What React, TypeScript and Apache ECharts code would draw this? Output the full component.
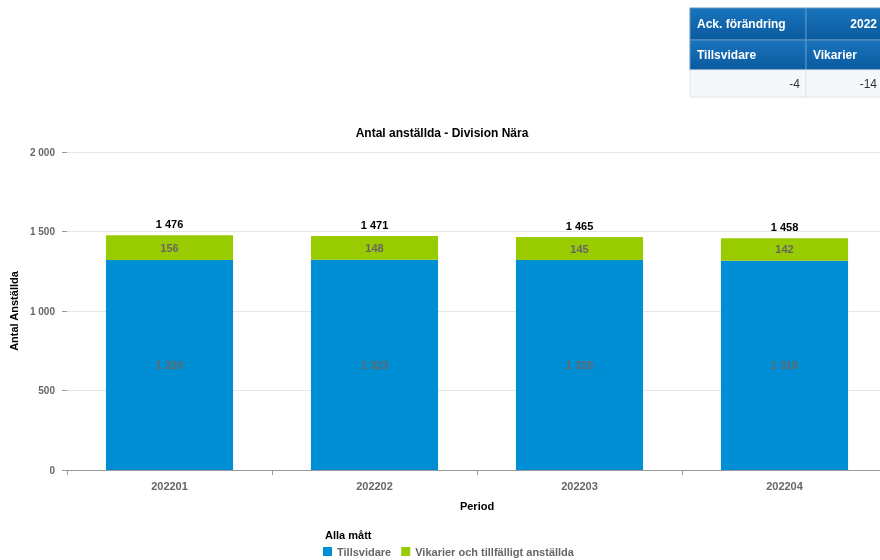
import React, { useEffect, useRef } from "react";
import * as echarts from "echarts";

const categories = ["202201", "202202", "202203", "202204"];
const tillsvidare = [1320, 1323, 1320, 1316];
const vikarier = [156, 148, 145, 142];
const totals = [1476, 1471, 1465, 1458];
const yTicks = [0, 500, 1000, 1500, 2000];
const tableHeader = ["Ack. förändring", "2022"];
const tableSub = ["Tillsvidare", "Vikarier"];
const tableValues = ["-4", "-14"];

const fmt = (v: number) => String(v).replace(/\B(?=(\d{3})+(?!\d))/g, " ");
const FONT = "Liberation Sans, Arial, sans-serif";

export default function App() {
  const ref = useRef<HTMLDivElement>(null);
  useEffect(() => {
    if (!ref.current) return;
    const chart = echarts.init(ref.current, undefined, { renderer: "svg" });
    const headGrad = new echarts.graphic.LinearGradient(0, 0, 0, 1, [
      { offset: 0, color: "#1a74bd" },
      { offset: 1, color: "#0a5a9e" },
    ]);
    const headGrad2 = new echarts.graphic.LinearGradient(0, 0, 0, 1, [
      { offset: 0, color: "#1a74bd" },
      { offset: 1, color: "#0a5a9e" },
    ]);
    chart.setOption({
      animation: false,
      textStyle: { fontFamily: FONT },
      title: [
        {
          text: "Antal anställda - Division Nära",
          left: 437,
          top: 122,
          textAlign: "center",
          textStyle: { fontSize: 12, fontWeight: "bold", color: "#000", fontFamily: FONT },
        },
        {
          text: "Alla mått",
          left: 320,
          top: 524,
          textStyle: { fontSize: 11, fontWeight: "bold", color: "#000", fontFamily: FONT },
        },
      ],
      legend: {
        data: ["Tillsvidare", "Vikarier och tillfälligt anställda"],
        left: 318,
        top: 544,
        padding: [2, 5, 2, 5],
        icon: "rect",
        itemWidth: 9,
        itemHeight: 9,
        itemGap: 10,
        textStyle: { fontSize: 11, fontWeight: "bold", color: "#666", fontFamily: FONT },
      },
      grid: { left: 67, right: 3, top: 152, bottom: 90 },
      xAxis: {
        type: "category",
        data: categories,
        name: "Period",
        nameLocation: "middle",
        nameGap: 30,
        nameTextStyle: { fontSize: 11, fontWeight: "bold", color: "#000", fontFamily: FONT },
        axisLine: { lineStyle: { color: "#999" } },
        axisTick: { show: true, length: 5, lineStyle: { color: "#999" } },
        axisLabel: { fontSize: 11, fontWeight: "bold", color: "#666", margin: 10, fontFamily: FONT },
      },
      yAxis: {
        type: "value",
        min: yTicks[0],
        max: yTicks[yTicks.length - 1],
        interval: 500,
        name: "Antal Anställda",
        nameLocation: "middle",
        nameGap: 47,
        nameRotate: 90,
        nameTextStyle: { fontSize: 11, fontWeight: "bold", color: "#000", fontFamily: FONT },
        axisLine: { show: false },
        axisTick: { show: true, length: 5, lineStyle: { color: "#999" } },
        axisLabel: {
          fontSize: 10,
          fontWeight: "bold",
          color: "#666",
          margin: 12,
          fontFamily: FONT,
          formatter: (v: number) => fmt(v),
        },
        splitLine: { lineStyle: { color: "#e6e6e6" } },
      },
      series: [
        {
          name: "Tillsvidare",
          type: "bar",
          stack: "s",
          barWidth: "62%",
          data: tillsvidare,
          itemStyle: { color: "#008fd5" },
          label: {
            show: true,
            position: "inside",
            formatter: (p: any) => fmt(p.value),
            fontSize: 11,
            fontWeight: "bold",
            color: "#666",
            fontFamily: FONT,
          },
        },
        {
          name: "Vikarier och tillfälligt anställda",
          type: "bar",
          stack: "s",
          data: vikarier,
          itemStyle: { color: "#99cc00" },
          label: {
            show: true,
            position: "inside",
            formatter: (p: any) => fmt(p.value),
            fontSize: 11,
            fontWeight: "bold",
            color: "#666",
            fontFamily: FONT,
          },
        },
        {
          name: "Total",
          type: "bar",
          stack: "s",
          data: totals.map(() => 0),
          itemStyle: { color: "transparent" },
          label: {
            show: true,
            position: "top",
            distance: 6,
            formatter: (p: any) => fmt(totals[p.dataIndex]),
            fontSize: 11,
            fontWeight: "bold",
            color: "#000",
            fontFamily: FONT,
          },
        },
      ],
      graphic: [
        { type: "rect", shape: { x: 690, y: 8, width: 116, height: 32 }, style: { fill: headGrad, stroke: "#5d93c4", lineWidth: 1 } },
        { type: "rect", shape: { x: 806, y: 8, width: 80, height: 32 }, style: { fill: headGrad2, stroke: "#5d93c4", lineWidth: 1 } },
        { type: "rect", shape: { x: 690, y: 40, width: 116, height: 30 }, style: { fill: headGrad, stroke: "#5d93c4", lineWidth: 1 } },
        { type: "rect", shape: { x: 806, y: 40, width: 80, height: 30 }, style: { fill: headGrad2, stroke: "#5d93c4", lineWidth: 1 } },
        { type: "rect", shape: { x: 690, y: 70, width: 116, height: 27 }, style: { fill: "#f4f8fa", stroke: "#dde5ea", lineWidth: 1 } },
        { type: "rect", shape: { x: 806, y: 70, width: 80, height: 27 }, style: { fill: "#f4f8fa", stroke: "#dde5ea", lineWidth: 1 } },
        { type: "text", x: 697, y: 24, style: { text: tableHeader[0], fill: "#fff", font: `bold 12px ${FONT}`, textVerticalAlign: "middle" } },
        { type: "text", x: 877, y: 24, style: { text: tableHeader[1], fill: "#fff", font: `bold 12px ${FONT}`, textAlign: "right", textVerticalAlign: "middle" } },
        { type: "text", x: 697, y: 55, style: { text: tableSub[0], fill: "#fff", font: `bold 12px ${FONT}`, textVerticalAlign: "middle" } },
        { type: "text", x: 813, y: 55, style: { text: tableSub[1], fill: "#fff", font: `bold 12px ${FONT}`, textVerticalAlign: "middle" } },
        { type: "text", x: 800, y: 84, style: { text: tableValues[0], fill: "#333", font: `12px ${FONT}`, textAlign: "right", textVerticalAlign: "middle" } },
        { type: "text", x: 877, y: 84, style: { text: tableValues[1], fill: "#333", font: `12px ${FONT}`, textAlign: "right", textVerticalAlign: "middle" } },
      ],
    });
    return () => chart.dispose();
  }, []);
  return (
    <div style={{ position: "fixed", left: 0, top: 0, width: 880, height: 560, overflow: "hidden" }}>
      <div ref={ref} style={{ width: 890, height: 560 }} />
    </div>
  );
}
